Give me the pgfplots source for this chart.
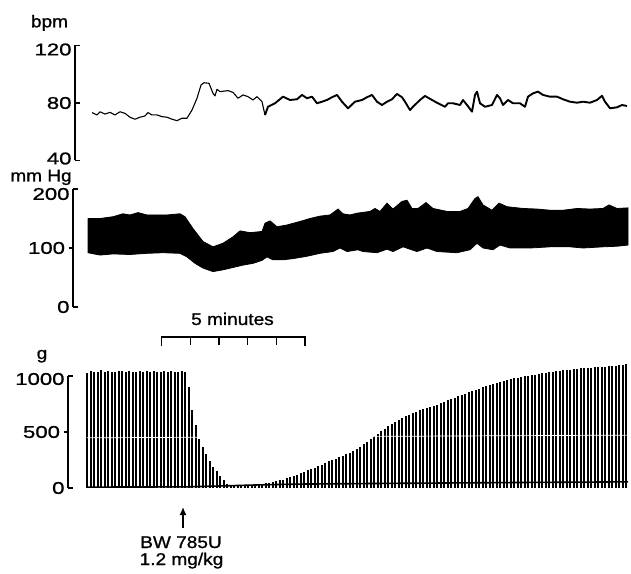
\documentclass[border=0pt]{standalone}
\usepackage{fontspec}
\setmainfont{Liberation Sans}[FakeStretch=1.12, FakeBold=1]
\newfontfamily\tickfont{Liberation Sans}[FakeStretch=1.3, FakeBold=1]
\usepackage{pgfplots}
\pgfplotsset{compat=1.18}
\usetikzlibrary{arrows.meta}

% shift a tick label up or down without changing its box
\newcommand{\nudge}[2]{\raisebox{#1}[\height][\depth]{#2}}

% one recorder channel: x is position along the chart paper (1 unit = 1pt)
\pgfplotsset{
  panel/.style={
    anchor=south west, x=1pt, xmax=631, clip=false,
    axis x line=none, axis y line=left,
    y axis line style={-, line width=1.3pt},
    tick style={black, line width=1.3pt},
    tick align=inside, major tick length=4.5pt,
    yticklabel style={font=\tickfont\fontsize{17}{20}\selectfont},
    scaled y ticks=false,
    /pgf/number format/assume math mode=true,
    /pgf/number format/1000 sep={},
  }
}

\begin{document}
\begin{tikzpicture}
\useasboundingbox (0pt,0pt) rectangle (631pt,573pt);

% heart rate
\begin{axis}[panel, at={(75pt,412.5pt)}, xmin=75, y=1.4375pt,
  ymin=40, ymax=120, ytick={40,80,120},
  yticklabels={\nudge{2pt}{40}, 80, \nudge{-4pt}{120}}]
\addplot[black, line width=1.1pt, line join=round, mark=none] coordinates {
(92,73.3) (97,71.7) (100,73.9) (105,72.3) (110,73.5) (115,71.7) (120,73.9)
(125,72.8) (130,70.1) (135,68.7) (140,70.1) (145,71.0) (148,73.3) (152,71.7)
(157,71.7) (162,70.5) (167,70.1) (172,68.7) (177,67.7) (182,69.4) (187,69.4)
(192,75.1) (197,83.3) (201,92.5) (204,94.1) (209,93.7) (213,86.7) (215,84.9)
(217,89.5) (220,87.9) (228,88.6) (233,87.4) (238,83.3) (243,85.6) (248,84.4)
(253,82.1) (257,84.4) (262,80.9) (265,71.6)};
\addplot[black, line width=1.9pt, line join=round, mark=none] coordinates {
(265,71.6) (268,77.4) (275,79.8) (283,84.4) (290,82.1) (297,82.6) (302,85.6)
(307,83.3) (312,84.4) (317,79.8) (322,80.9) (327,82.1) (332,84.0) (337,85.6)
(342,80.9) (348,76.3) (355,80.9) (362,82.1) (367,84.0) (372,85.6) (377,80.9)
(382,78.6) (387,80.9) (392,82.6) (397,86.3) (402,84.0) (405,80.9) (410,75.1)
(413,77.4) (420,82.1) (425,84.9) (432,82.1) (438,79.8) (445,77.4) (448,79.8)
(453,79.8) (460,78.6) (463,82.1) (467,78.6) (472,74.0) (475,85.6) (477,87.9)
(480,79.8) (485,77.4) (492,78.6) (497,85.6) (500,83.3) (503,78.6) (508,82.1)
(513,79.8) (520,79.8) (525,77.4) (528,84.4) (533,86.7) (538,87.9) (543,85.6)
(550,84.4) (557,84.4) (563,82.6) (570,80.9) (577,80.2) (583,80.9) (590,80.2)
(597,82.1) (602,85.0) (605,80.9) (610,76.3) (617,77.0) (622,78.6) (627,77.9)};
\end{axis}

% arterial pressure: band between systolic (top) and diastolic (bottom)
\begin{axis}[panel, at={(73pt,266pt)}, xmin=73, y=0.59pt,
  ymin=0, ymax=200, ytick={0,200},
  yticklabels={0, \nudge{-5pt}{200}},
  extra y ticks={100}, extra y tick style={tick align=outside}]
\addplot[fill=black, draw=black, line width=0.8pt, mark=none] coordinates {
(88,150) (100,150) (113,153) (123,158) (130,156) (138,160) (147,156) (157,156)
(167,156) (180,158) (185,153) (193,133) (203,111) (213,102) (223,108) (233,119)
(240,129) (250,126) (262,128) (265,142) (270,146) (277,136) (287,139) (300,145)
(310,150) (320,154) (330,156) (338,166) (343,158) (350,156) (357,159) (370,162)
(375,167) (380,162) (387,176) (393,166) (402,179) (407,181) (412,167) (418,167)
(426,177) (433,167) (447,162) (460,162) (468,167) (475,184) (478,187) (483,173)
(492,164) (499,176) (507,170) (523,167) (537,166) (550,164) (563,164) (577,167)
(590,166) (603,167) (609,173) (617,167) (628,168)
(628,105) (617,103) (603,102) (583,100) (570,102) (550,102) (530,100) (510,100)
(500,105) (493,97) (483,100) (477,108) (470,97) (457,92) (437,94) (427,100)
(417,94) (403,102) (393,94) (387,98) (377,92) (363,94) (358,97) (347,94)
(340,100) (333,94) (320,91) (307,86) (293,82) (283,80) (273,80) (267,85)
(262,79) (253,74) (243,71) (233,67) (223,63) (213,60) (203,66) (195,74)
(187,85) (180,91) (163,92) (147,91) (130,89) (113,90) (100,88) (88,92) (88,150)};
\end{axis}

% twitch tension, one stroke per twitch
\begin{axis}[panel, at={(68pt,85pt)}, xmin=68, y=0.112pt,
  ymin=0, ymax=1000, ytick={0,1000},
  yticklabels={0, \nudge{-3pt}{1000}},
  extra y ticks={500}, extra y tick style={tick align=outside}]
\addplot[ycomb, black, line width=2.0pt, mark=none] coordinates {
(87,1030) (90.5,1045) (94,1040) (97.5,1035) (101,1050) (104.5,1040) (108,1045)
(111.5,1035) (115,1040) (118.5,1048) (122,1042) (125.5,1038) (129,1045)
(132.5,1040) (136,1035) (139.5,1045) (143,1040) (146.5,1042) (150,1038)
(153.5,1045) (157,1040) (160.5,1035) (164,1042) (167.5,1040) (171,1045)
(174.5,1038) (178,1040) (181.5,1042) (185,1035)
(188.5,900) (192,700) (195.5,560) (199,440) (202.5,365) (206,300) (209.5,245)
(213,190) (216.5,150) (220,105) (223.5,70) (227,40) (230.5,25)
(234,25) (237.5,25) (241,28) (244.5,28) (248,30) (251.5,30) (255,32) (258.5,35)
(262,38) (265.5,42) (269,48) (272.5,55) (276,60) (279.5,68) (283,75) (286.5,85)
(290,95) (293.5,105) (297,118) (300.5,135) (304,145) (307.5,158) (311,170)
(314.5,180) (318,195) (321.5,208) (325,222) (328.5,238) (332,250) (335.5,262)
(339,275) (342.5,290) (346,300) (349.5,313) (353,330) (356.5,350) (360,370)
(363.5,390) (367,410) (370.5,435) (374,460) (377.5,485) (381,510) (384.5,530)
(388,550) (391.5,570) (395,590) (398.5,610) (402,625) (405.5,640) (409,655)
(412.5,668) (416,680) (419.5,692) (423,702) (426.5,712) (430,722) (433.5,732)
(437,745) (440.5,758) (444,770) (447.5,782) (451,792) (454.5,805) (458,818)
(461.5,830) (465,842) (468.5,855) (472,865) (475.5,878) (479,888) (482.5,900)
(486,910) (489.5,918) (493,928) (496.5,938) (500,945) (503.5,955) (507,962)
(510.5,970) (514,978) (517.5,985) (521,990) (524.5,996) (528,1002) (531.5,1008)
(535,1012) (538.5,1020) (542,1025) (545.5,1030) (549,1035) (552.5,1040)
(556,1043) (559.5,1047) (563,1050) (566.5,1055) (570,1058) (573.5,1062)
(577,1065) (580.5,1068) (584,1070) (587.5,1072) (591,1075) (594.5,1077)
(598,1079) (601.5,1081) (605,1083) (608.5,1086) (612,1089) (615.5,1092)
(619,1095) (622.5,1100) (626,1110)};
\addplot[black, line width=1.6pt, mark=none] coordinates {
(87,8) (185,10) (228,20) (260,28) (300,35) (400,42) (500,48) (628,55)};
\addplot[white, line width=0.7pt, mark=none] coordinates {(87,448) (628,472)};
\end{axis}

% unit labels
\node[anchor=base, font=\fontsize{17}{20}\selectfont] at (49.5pt,545.7pt) {bpm};
\node[anchor=base, font=\fontsize{17}{20}\selectfont] at (41pt,391.5pt) {mm Hg};
\node[anchor=base, font=\fontsize{17}{20}\selectfont] at (42pt,214pt) {g};

% time scale: 5 minutes
\draw[line width=1.3pt] (161.7pt,227pt) -- (161.7pt,236pt) -- (305pt,236pt) -- (305pt,227pt);
\foreach \tx in {190.4,219.0,247.7,276.3}
  \draw[line width=1.3pt] (\tx pt,236pt) -- (\tx pt,228pt);
\node[anchor=base, font=\fontsize{17}{20}\selectfont] at (232.5pt,248pt) {5 minutes};

% injection marker
\draw[line width=1.4pt, -{Latex[length=8pt,width=7pt]}] (183pt,45pt) -- (183pt,66pt);
\node[anchor=base, font=\fontsize{17}{20}\selectfont] at (181pt,25pt) {BW 785U};
\node[anchor=base, font=\fontsize{17}{20}\selectfont] at (181.5pt,8pt) {1.2 mg/kg};
\end{tikzpicture}
\end{document}
